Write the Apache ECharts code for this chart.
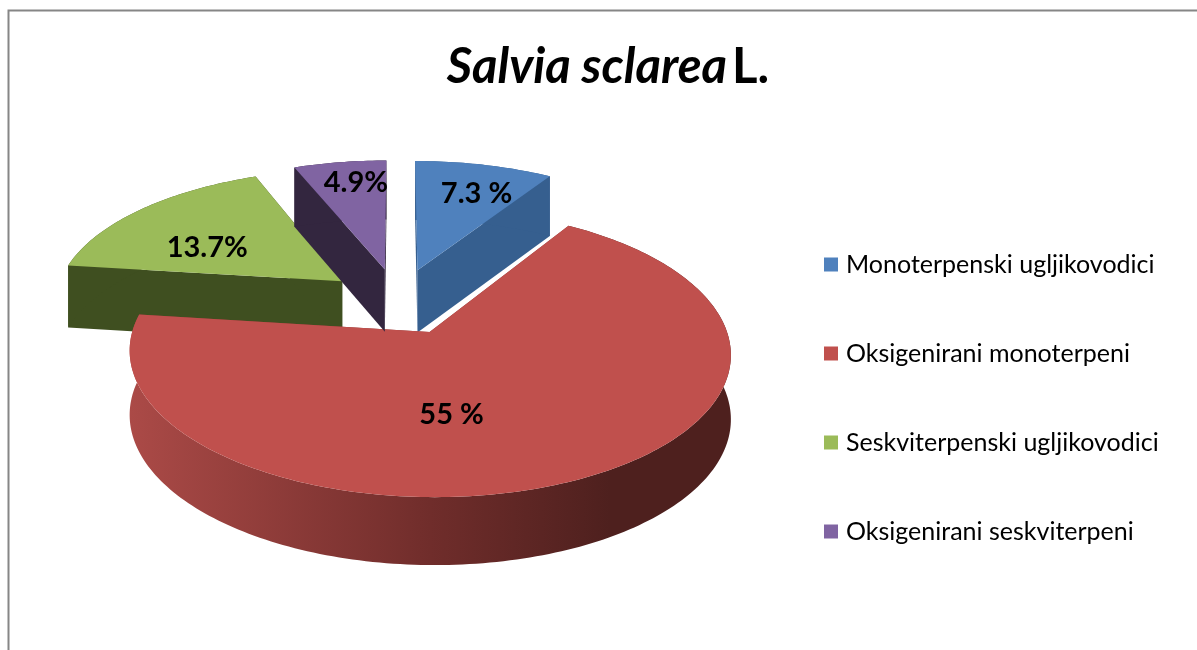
<!DOCTYPE html>
<html>
<head>
<meta charset="utf-8">
<style>html,body{margin:0;padding:0;background:#fff}#main{width:1197px;height:650px}</style>
<script src="https://cdn.jsdelivr.net/npm/echarts@6/dist/echarts.min.js"></script>
</head>
<body>
<div id="main"></div>
<script>
const categories = ['Monoterpenski ugljikovodici', 'Oksigenirani monoterpeni', 'Seskviterpenski ugljikovodici', 'Oksigenirani seskviterpeni']
const values = [7.3, 55, 13.7, 4.9]
const valueLabels = ['7.3 %', '55 %', '13.7%', '4.9%']
const topColors = ['#4f81bd', '#c0504d', '#9bbb59', '#8064a2']
const wallColors = ['#365f8f', '#8a3a37', '#3f4f20', '#33263f']
// label position relative to the slice apex
const labelOffsets = [[59, -77], [22, 83], [-135, -34], [-29, -87]]

// fake 3d camera for the tilted pie
const cx = 398, cy = 301, radius = 288, squash = 0.46, persp = 0.14, depth = 63, explode = 72
const total = values.reduce((a, b) => a + b, 0)

function project(X, Z, h) {
  const w = 1 / (1 - persp * Z / radius)
  return [cx + X * w, cy + Z * squash * w + h * Math.pow(w, 0.4)]
}

function renderSlice(params, api) {
  const i = params.seriesIndex
  const value = api.value(0)
  const before = values.slice(0, i).reduce((a, b) => a + b, 0)
  const a0 = before / total * Math.PI * 2
  const a1 = (before + value) / total * Math.PI * 2
  const mid = (a0 + a1) / 2
  const ox = Math.sin(mid) * explode
  const oz = -Math.cos(mid) * explode
  const steps = Math.ceil((a1 - a0) / 0.02)
  const topArc = [], lowArc = []
  for (let s = 0; s <= steps; s++) {
    const a = a0 + (a1 - a0) * s / steps
    const X = ox + Math.sin(a) * radius
    const Z = oz - Math.cos(a) * radius
    topArc.push(project(X, Z, 0))
    lowArc.push(project(X, Z, depth))
  }
  const apexTop = project(ox, oz, 0)
  const apexLow = project(ox, oz, depth)
  const wallFill = i === 1
    ? new echarts.graphic.LinearGradient(0, 0, 1, 0, [
        { offset: 0, color: '#ab4a47' },
        { offset: 0.5, color: '#702d2b' },
        { offset: 0.8, color: '#4e201e' },
        { offset: 1, color: '#4e201e' },
      ])
    : wallColors[i]
  const poly = (points, fill) => ({ type: 'polygon', shape: { points }, style: { fill } })
  const children = [
    poly([apexTop, topArc[0], lowArc[0], apexLow], wallColors[i]),
    poly([apexTop, topArc[steps], lowArc[steps], apexLow], wallColors[i]),
    poly(topArc.concat(lowArc.slice().reverse()), wallFill),
    poly([apexTop].concat(topArc), topColors[i]),
    {
      type: 'text',
      style: {
        x: apexTop[0] + labelOffsets[i][0],
        y: apexTop[1] + labelOffsets[i][1],
        text: valueLabels[i],
        fill: '#000',
        font: 'bold 29px Lato',
        align: 'center',
        verticalAlign: 'middle',
      },
    },
  ]
  return { type: 'group', children }
}

const chart = echarts.init(document.getElementById('main'))
const paintOrder = [1, 3, 2, 4]
chart.setOption({
  animation: false,
  backgroundColor: '#fff',
  title: {
    text: '{i|Salvia sclarea} {b|L.}',
    left: 603,
    top: 38,
    textAlign: 'center',
    textStyle: {
      rich: {
        i: { fontFamily: 'Lato', fontSize: 49, fontWeight: 'bold', fontStyle: 'italic', color: '#000' },
        b: { fontFamily: 'Lato', fontSize: 49, fontWeight: 'bold', color: '#000' },
      },
    },
  },
  legend: {
    data: categories,
    orient: 'vertical',
    left: 824,
    top: 251,
    padding: 0,
    itemWidth: 14,
    itemHeight: 14,
    itemGap: 62,
    icon: 'rect',
    selectedMode: false,
    textStyle: { fontFamily: 'Lato', fontSize: 25, color: '#000', padding: [0, 0, 0, 3], height: 27, lineHeight: 27 },
  },
  graphic: [
    {
      type: 'polyline',
      shape: { points: [[8.5, 650], [8.5, 10.5], [1197, 10.5]] },
      style: { stroke: '#868686', lineWidth: 2, fill: null },
      silent: true,
    },
  ],
  series: categories.map((name, i) => ({
    name,
    type: 'custom',
    coordinateSystem: 'none',
    z: paintOrder[i],
    itemStyle: { color: topColors[i] },
    renderItem: renderSlice,
    data: [[values[i]]],
  })),
})
</script>
</body>
</html>
